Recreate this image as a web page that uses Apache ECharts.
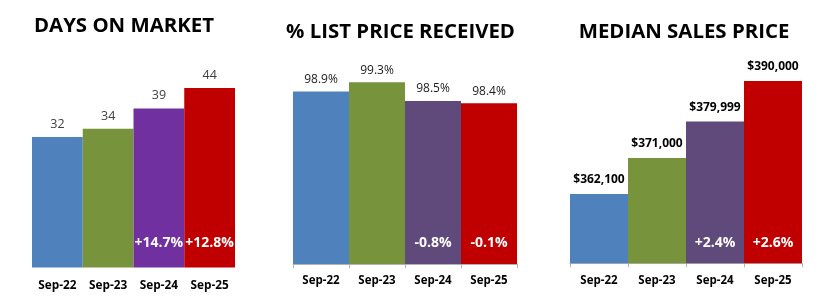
<!DOCTYPE html>
<html>
<head>
<meta charset="utf-8">
<script src="https://cdn.jsdelivr.net/npm/echarts@6/dist/echarts.min.js"></script>
<style>
html,body{margin:0;padding:0;background:#fff;}
#chart{width:826px;height:300px;}
</style>
</head>
<body>
<div id="chart"></div>
<script>
const categories = ['Sep-22', 'Sep-23', 'Sep-24', 'Sep-25'];
const titles = ['DAYS ON MARKET', '% LIST PRICE RECEIVED', 'MEDIAN SALES PRICE'];
const daysOnMarket = [32, 34, 39, 44];
const daysChange = ['', '', '+14.7%', '+12.8%'];
const listPricePct = [98.9, 99.3, 98.5, 98.4];
const listPriceChange = ['', '', '-0.8%', '-0.1%'];
const medianPrice = [362100, 371000, 379999, 390000];
const medianChange = ['', '', '+2.4%', '+2.6%'];

const colors1 = ['#4F81BD', '#77933C', '#7030A0', '#C00000'];
const colors23 = ['#4F81BD', '#77933C', '#604A7B', '#C00000'];
const FONT = '"Open Sans", "Liberation Sans", sans-serif';

const chart = echarts.init(document.getElementById('chart'), null, {renderer: 'canvas'});

function xAxis(gi, showLine, margin) {
  return {
    type: 'category', gridIndex: gi, data: categories, boundaryGap: true,
    axisLine: {show: showLine, lineStyle: {color: '#B3B3B3', width: 1}},
    axisTick: {show: showLine, length: 4, lineStyle: {color: '#B3B3B3'}},
    axisLabel: {color: '#000', fontFamily: FONT, fontWeight: 'bold', fontSize: gi === 0 ? 11.8 : 11.5, margin: margin}
  };
}
function yAxis(gi, min, max) {
  return {type: 'value', gridIndex: gi, min: min, max: max, show: false, splitLine: {show: false}};
}
function mainSeries(gi, values, colors, fmt, lblColor, lblWeight, lblSize, dist) {
  return {
    type: 'bar', xAxisIndex: gi, yAxisIndex: gi, barCategoryGap: '0%', barGap: '-100%',
    data: values.map((v, i) => ({value: v, itemStyle: {color: colors[i]}})),
    label: {show: true, position: 'top', distance: dist, formatter: p => fmt(p.value),
      color: lblColor, fontFamily: FONT, fontWeight: lblWeight, fontSize: lblSize},
    animation: false, silent: true
  };
}
function changeSeries(gi, values, changes, dist) {
  return {
    type: 'bar', xAxisIndex: gi, yAxisIndex: gi, barCategoryGap: '0%', barGap: '-100%',
    data: values.map(v => v),
    itemStyle: {color: 'rgba(0,0,0,0)'},
    label: {show: true, position: 'insideBottom', distance: dist,
      formatter: p => changes[p.dataIndex],
      color: '#fff', fontFamily: FONT, fontWeight: 'bold', fontSize: 14},
    animation: false, silent: true
  };
}

const option = {
  backgroundColor: '#fff',
  animation: false,
  grid: [
    {left: 32, width: 203, top: 63.5, height: 204},
    {left: 293, width: 224, top: 66, height: 198},
    {left: 570, width: 232, top: 40.5, height: 222.8}
  ],
  xAxis: [xAxis(0, false, 12), xAxis(1, true, 11), xAxis(2, true, 11)],
  yAxis: [yAxis(0, 0, 50), yAxis(1, 91.5, 100), yAxis(2, 345000, 400000)],
  graphic: [
    {type: 'text', x: 124, y: 26, style: {text: titles[0], font: 'bold 20.4px ' + FONT, fill: '#000', align: 'center', verticalAlign: 'middle'}},
    {type: 'text', x: 400.5, y: 32.5, style: {text: titles[1], font: 'bold 20.4px ' + FONT, fill: '#000', align: 'center', verticalAlign: 'middle'}},
    {type: 'text', x: 684, y: 32, style: {text: titles[2], font: 'bold 20.4px ' + FONT, fill: '#000', align: 'center', verticalAlign: 'middle'}}
  ],
  series: [
    mainSeries(0, daysOnMarket, colors1, v => String(v), '#404040', 'normal', 12.5, 6),
    changeSeries(0, daysOnMarket, daysChange, 17),
    mainSeries(1, listPricePct, colors23, v => v.toFixed(1) + '%', '#1a1a1a', 'normal', 12, 6),
    changeSeries(1, listPricePct, listPriceChange, 14),
    mainSeries(2, medianPrice, colors23, v => '$' + v.toLocaleString('en-US'), '#000', 'bold', 12, 8),
    changeSeries(2, medianPrice, medianChange, 13)
  ]
};
chart.setOption(option);
</script>
</body>
</html>
